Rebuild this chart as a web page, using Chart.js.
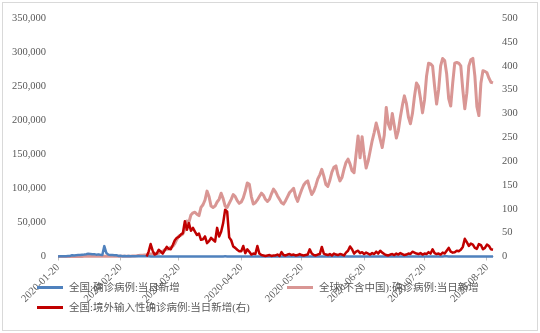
<!DOCTYPE html>
<html>
<head>
<meta charset="utf-8">
<script src="https://cdn.jsdelivr.net/npm/chart.js@4.4.1/dist/chart.umd.min.js"></script>
<style>
  body { margin: 0; background: #fff; }
  #wrap { position: relative; width: 540px; height: 333px; }
  #frame { position: absolute; left: 2px; top: 2px; width: 534px; height: 327px; border: 1px solid #d9d9d9; pointer-events: none; }
  .lg { position: absolute; font: 10.5px "Liberation Serif", "Noto Sans CJK SC", serif; color: #595959; white-space: nowrap; line-height: 14px; }
  .lg i { display: inline-block; width: 26px; height: 3px; vertical-align: middle; margin-right: 6px; position: relative; top: -1px; }
</style>
</head>
<body>
<div id="wrap">
  <canvas id="covidChart" width="540" height="333"></canvas>
  <div id="frame"></div>
</div>
<script>
// daily series, first day 2020-01-20
const startDate = '2020-01-20';

// 全国:确诊病例:当日新增 (left axis)
const chinaNew = [
  77, 149, 131, 259, 444, 688, 769, 1771, 1459, 1737, 1982, 2102,
  2590, 2829, 3235, 3887, 3694, 3143, 3399, 2656, 3062, 2478, 2015, 15152, 5090, 2641, 2009, 2048, 1886, 1749, 820, 889, 397, 648, 409, 508, 406, 433, 327, 427, 573,
  202, 125, 119, 139, 143, 99, 44, 40, 19, 24, 15, 8, 11, 20, 16, 21, 13, 34, 39, 41, 46, 45, 39, 78, 47, 67, 55, 54, 45, 31, 48,
  36, 35, 31, 19, 30, 39, 32, 62, 42, 46, 99, 108, 89, 46, 46, 26, 27, 18, 16, 12, 11, 30, 10, 12, 11, 6, 3, 22, 4, 12,
  1, 2, 1, 3, 2, 1, 2, 4, 1, 14, 17, 7, 3, 4, 5, 8, 6, 3, 5, 2, 4, 3, 0, 3, 11, 7, 1, 2, 4, 4, 2,
  16, 5, 1, 7, 3, 5, 6, 4, 3, 11, 8, 11, 57, 49, 40, 40, 28, 25, 32, 26, 30, 26, 19, 13, 22, 21, 17, 12, 19, 19,
  3, 3, 5, 8, 3, 8, 7, 11, 9, 7, 3, 8, 8, 6, 4, 11, 16, 22, 13, 11, 12, 14, 22, 21, 46, 61, 68, 101, 64, 123, 127,
  45, 49, 36, 37, 27, 37, 32, 23, 22, 19, 44, 25, 24, 22, 19, 22, 16, 16, 22, 22, 30, 16, 14
];

// 全球(不含中国):确诊病例:当日新增 (left axis)
const globalNew = [
  5, 8, 10, 15, 20, 30, 35, 45, 55, 70, 85, 95,
  100, 110, 120, 125, 130, 135, 140, 140, 150, 150, 160, 165, 170, 175, 180, 190, 200, 210, 220, 240, 260, 300, 350, 400, 450, 600, 800, 1100, 1500,
  1800, 1900, 2100, 2300, 2700, 3600, 3900, 4200, 3900, 4500, 7000, 7500, 10000, 10500, 11000, 13500, 15000, 19000, 25000, 30000, 31000, 33000, 40000, 52000, 50000, 61000, 64000, 65000, 62000, 60000, 72000,
  76000, 83000, 96000, 88000, 74000, 72000, 74000, 80000, 84000, 93000, 85000, 74000, 72000, 78000, 84000, 91000, 88000, 82000, 78000, 80000, 86000, 96000, 108000, 106000, 88000, 77000, 79000, 83000, 88000, 93000,
  90000, 84000, 81000, 84000, 92000, 99000, 95000, 89000, 84000, 79000, 77000, 82000, 88000, 94000, 97000, 100000, 88000, 81000, 90000, 98000, 105000, 109000, 111000, 100000, 91000, 96000, 104000, 114000, 120000, 128000, 118000,
  106000, 103000, 112000, 124000, 131000, 133000, 120000, 111000, 116000, 128000, 138000, 143000, 136000, 126000, 123000, 150000, 177000, 145000, 176000, 150000, 130000, 140000, 155000, 170000, 182000, 196000, 185000, 172000, 160000, 178000,
  219000, 195000, 187000, 210000, 192000, 174000, 185000, 205000, 222000, 236000, 225000, 205000, 195000, 210000, 235000, 255000, 250000, 232000, 211000, 230000, 265000, 284000, 283000, 280000, 250000, 224000, 245000, 280000, 291000, 288000, 268000,
  232000, 221000, 255000, 284000, 285000, 284000, 280000, 245000, 217000, 240000, 280000, 289000, 291000, 265000, 220000, 207000, 255000, 273000, 272000, 270000, 262000, 256000, 255000
];

// 全国:境外输入性确诊病例:当日新增 (right axis), first day 2020-03-04
const importedStart = '2020-03-04';
const importedNew = [
  0, 10, 26, 12, 4, 6, 14, 10, 6, 13, 20, 16, 15, 24, 34, 39, 41, 46, 49, 74, 56, 70, 54, 60, 52, 45, 48, 35,
  36, 42, 28, 32, 39, 35, 31, 60, 42, 52, 70, 98, 94, 40, 34, 21, 18, 14, 11, 11, 22, 7, 15, 10, 4, 6, 5, 22, 6, 3,
  2, 1, 2, 3, 1, 2, 2, 4, 1, 9, 3, 2, 4, 5, 3, 4, 2, 3, 5, 3, 2, 3, 4, 15, 6, 3, 2, 4, 5, 20, 6,
  4, 3, 5, 2, 6, 4, 3, 5, 4, 2, 8, 12, 21, 15, 6, 10, 12, 7, 9, 5, 8, 6, 4, 7, 5, 10, 6, 12, 8, 5,
  3, 2, 4, 5, 3, 6, 4, 7, 5, 3, 4, 6, 5, 10, 8, 6, 5, 7, 4, 6, 5, 9, 6, 15, 7, 5, 6, 4, 8, 6, 12,
  18, 10, 8, 9, 12, 11, 14, 20, 37, 30, 22, 27, 25, 18, 16, 26, 24, 15, 18, 25, 22, 15, 14
];

const leftTicks = [0, 50000, 100000, 150000, 200000, 250000, 300000, 350000];
const rightTicks = [0, 50, 100, 150, 200, 250, 300, 350, 400, 450, 500];

const seriesNames = ['全国:确诊病例:当日新增', '全球(不含中国):确诊病例:当日新增', '全国:境外输入性确诊病例:当日新增(右)'];

// build date labels
const dayMs = 86400000;
const t0 = Date.parse(startDate + 'T00:00:00Z');
const dates = chinaNew.map((_, i) => new Date(t0 + i * dayMs).toISOString().slice(0, 10));
const offset = dates.indexOf(importedStart);
const importedData = Array(offset).fill(null).concat(importedNew);

const fontFamily = '"Liberation Serif", "Noto Sans CJK SC", serif';
const tickColor = '#595959';

const ctx = document.getElementById('covidChart').getContext('2d');
const chart = new Chart(ctx, {
  type: 'line',
  data: {
    labels: dates,
    datasets: [
      {
        label: seriesNames[0],
        data: chinaNew,
        yAxisID: 'yLeft',
        borderColor: '#4F81BD',
        borderWidth: 2.5,
        order: 1,
      },
      {
        label: seriesNames[1],
        data: globalNew,
        yAxisID: 'yLeft',
        borderColor: 'rgb(217, 150, 148)',
        borderWidth: 3,
        order: 2,
      },
      {
        label: seriesNames[2],
        data: importedData,
        yAxisID: 'yRight',
        borderColor: '#C00000',
        borderWidth: 2.5,
        order: 0,
      },
    ],
  },
  options: {
    responsive: false,
    animation: false,
    layout: { padding: { left: 12, right: 17, top: 15, bottom: 27 } },
    elements: {
      point: { radius: 0 },
      line: { tension: 0, borderJoinStyle: 'round' },
    },
    datasets: { line: { clip: false } },
    plugins: {
      legend: { display: false },
      tooltip: { enabled: false },
    },
    scales: {
      x: {
        // let the rotated first label run past the plot edge, like the original
        afterFit: (s) => { s.paddingLeft = 0; s.paddingRight = 0; },
        grid: {
          display: true,
          drawOnChartArea: false,
          tickLength: 4,
          color: (c) => (dates[c.index] && dates[c.index].endsWith('-20') ? '#bfbfbf' : 'rgba(0,0,0,0)'),
        },
        border: { display: true, color: '#d9d9d9' },
        ticks: {
          autoSkip: false,
          maxRotation: 45,
          minRotation: 45,
          padding: 1,
          color: tickColor,
          font: { family: fontFamily, size: 10.5 },
          callback: (v, i) => (dates[i].endsWith('-20') ? dates[i] : ''),
        },
      },
      yLeft: {
        type: 'linear',
        position: 'left',
        min: leftTicks[0],
        max: leftTicks[leftTicks.length - 1],
        afterBuildTicks: (s) => { s.ticks = leftTicks.map((v) => ({ value: v })); },
        afterFit: (s) => { s.width = 46; },
        grid: { display: false, drawTicks: false },
        border: { display: false },
        ticks: {
          padding: 12,
          color: tickColor,
          font: { family: fontFamily, size: 10.5 },
          callback: (v) => v.toLocaleString('en-US'),
        },
      },
      yRight: {
        type: 'linear',
        position: 'right',
        min: rightTicks[0],
        max: rightTicks[rightTicks.length - 1],
        afterBuildTicks: (s) => { s.ticks = rightTicks.map((v) => ({ value: v })); },
        afterFit: (s) => { s.width = 30; },
        grid: { display: false, drawTicks: false },
        border: { display: false },
        ticks: {
          padding: 9,
          color: tickColor,
          font: { family: fontFamily, size: 10.5 },
        },
      },
    },
  },
});

// Excel style legend, two columns
const legendSpots = [
  { left: 37, top: 281 },
  { left: 287, top: 281 },
  { left: 37, top: 301 },
];
const wrap = document.getElementById('wrap');
chart.data.datasets.forEach((ds, i) => {
  const item = document.createElement('div');
  item.className = 'lg';
  item.style.left = legendSpots[i].left + 'px';
  item.style.top = legendSpots[i].top + 'px';
  const swatch = document.createElement('i');
  swatch.style.background = ds.borderColor;
  item.appendChild(swatch);
  item.appendChild(document.createTextNode(ds.label));
  wrap.appendChild(item);
});
</script>
</body>
</html>
